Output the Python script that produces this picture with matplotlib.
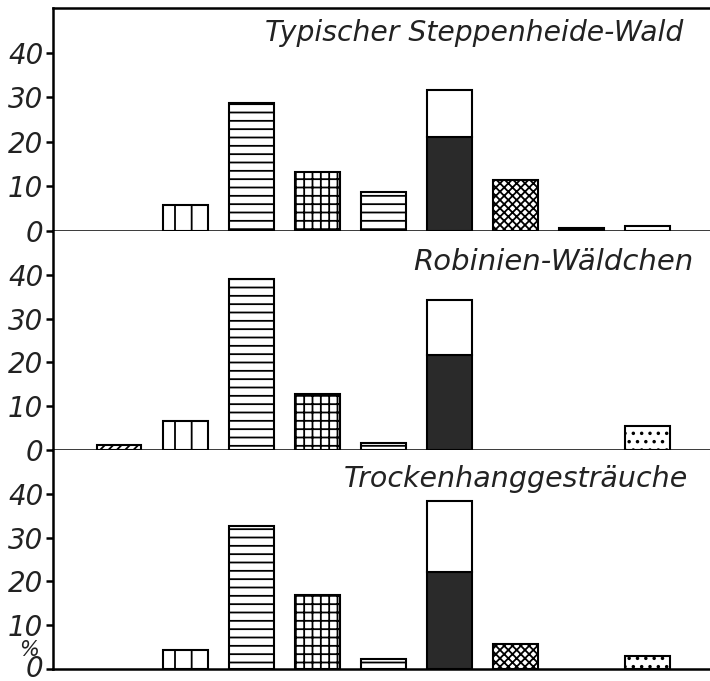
import matplotlib
matplotlib.use("Agg")
import matplotlib.pyplot as plt
import matplotlib.transforms as mtransforms
import numpy as np

# ---- data ----
categories = [1, 2, 3, 4, 5, 6, 7, 8, 9]
titles = ["Typischer Steppenheide-Wald", "Robinien-Wäldchen", "Trockenhanggesträuche"]
values_wald = [0, 5.8, 28.8, 13.2, 8.7, 31.6, 11.5, 0.7, 1.1]
values_robinie = [1.1, 6.7, 39.1, 12.8, 1.6, 34.2, 0, 0, 5.4]
values_hang = [0, 4.3, 32.6, 16.9, 2.3, 38.4, 5.8, 0, 2.9]
dark_part = [21.1, 21.6, 22.2]   # dark lower portion of category 6
yticks = [0, 10, 20, 30, 40]

hatches = ['////', '|', '--', '++', '--', None, 'xxxx', '--', '..']

plt.rcParams['hatch.linewidth'] = 1.3
plt.rcParams['font.family'] = ['DejaVu Sans']

fig = plt.figure(figsize=(7.10, 6.81), dpi=100)
W, H = 710, 681
left = 53 / W
# panel pixel extents (top, bottom)
extents = [(8, 231), (231, 450), (450, 669)]
title_pos = [(683, 41), (693, 270), (688, 487)]
title_sizes = [20.3, 21.0, 20.5]
all_vals = [values_wald, values_robinie, values_hang]

for i, ((top, bot), vals, title) in enumerate(zip(extents, all_vals, titles)):
    ax = fig.add_axes([left, (H - bot) / H, 1 - left, (bot - top) / H])
    ax.set_xlim(0, 9.95)
    ax.set_ylim(0, 50)
    for j, (c, v) in enumerate(zip(categories, vals)):
        if v <= 0:
            continue
        if j == 5:
            d = dark_part[i]
            ax.bar(c, d, width=0.68, color='#2a2a2a', edgecolor='black', linewidth=1.5, zorder=2)
            ax.bar(c, v - d, bottom=d, width=0.68, color='white', edgecolor='black',
                   linewidth=1.5, zorder=2)
        else:
            ax.bar(c, v, width=0.68, color='white', edgecolor='black', hatch=hatches[j],
                   linewidth=1.5, zorder=2)
    ax.spines['right'].set_visible(False)
    if i > 0:
        ax.spines['top'].set_visible(False)
    for s in ['left', 'bottom', 'top']:
        ax.spines[s].set_linewidth(1.8)
    ax.set_xticks([])
    ax.set_yticks(yticks)
    ax.set_yticklabels([str(t) for t in yticks], fontsize=20, style='italic', color='#222222')
    ax.tick_params(axis='y', direction='out', length=5, width=1.8, pad=2)
    if i == 2:
        lab0 = ax.get_yticklabels()[0]
        lab0.set_transform(lab0.get_transform() +
                           mtransforms.ScaledTranslation(0, 3 / 100, fig.dpi_scale_trans))
    tx, ty = title_pos[i]
    ax.text((tx - 53) / (W - 53), (bot - ty) / (bot - top), title, ha='right', va='baseline',
            fontsize=title_sizes[i], style='italic', color='#222222', transform=ax.transAxes)
    if i == 2:
        fig.text(29 / W, (H - 650) / H, '%', ha='center', va='center', fontsize=15,
                 style='italic', color='#222222')

fig.savefig('out.png', dpi=100)
